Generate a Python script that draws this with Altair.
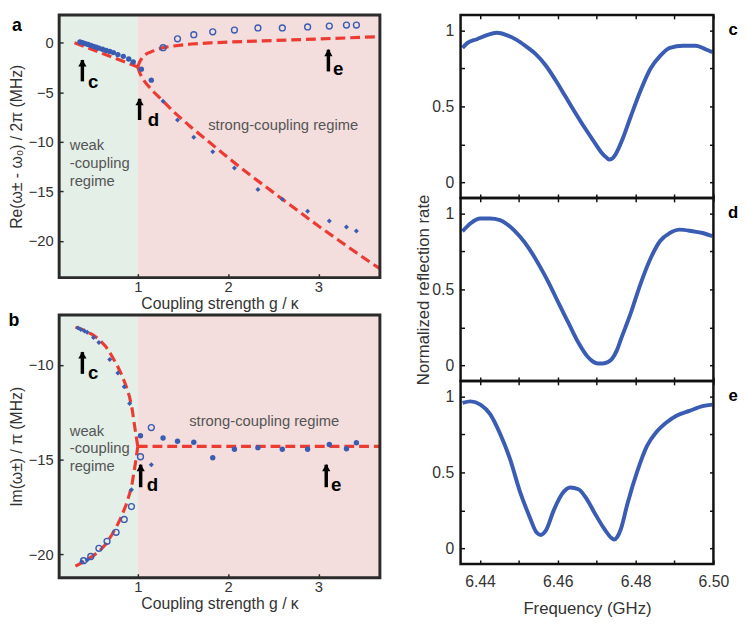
import altair as alt
import pandas as pd

FONT = "Liberation Sans"
BLUE = "#3a5cb2"
RED = "#ec3b33"
GREEN = "#e3efe7"
PINK = "#f3dedd"
FRAME_L = "#2b2b2b"
FRAME_R = "#111111"
TXT = "#333333"
NOTE = "#555555"

# ---------------- layout ----------------
WL, HL = 326, 267
WR, HR = 257, 186
VSP_L, HSP = 38, 32

# ---------------- shared axes data ----------------
g_domain = [0.13, 3.68]
g_ticks = [1, 2, 3]
region_edges = [0.13, 1.0, 3.68]
region_names = ["weak", "strong"]

# ---------------- panel a ----------------
a_ydomain = [-23.7, 2.8]
a_yticks = [0, -5, -10, -15, -20]

a_fit_weak_g = [0.30, 1.0]
a_fit_weak_y = [0.0, -2.45]
a_fit_up_g = [1.0, 1.02, 1.05, 1.1, 1.18, 1.28, 1.4, 1.6, 1.8, 2.0, 2.5, 3.0, 3.5, 3.68]
a_fit_up_y = [-2.45, -1.95, -1.5, -1.1, -0.8, -0.5, -0.33, -0.13, -0.02, 0.06, 0.22, 0.37, 0.55, 0.6]
a_fit_low_g = [1.0, 1.02, 1.05, 1.1, 1.18, 1.28, 1.4, 1.6, 1.8, 2.0, 2.25, 2.5, 2.75, 3.0, 3.25, 3.5, 3.68]
a_fit_low_y = [-2.45, -3.0, -3.6, -4.2, -5.0, -5.9, -7.0, -8.6, -10.1, -11.6, -13.4, -15.1, -16.8, -18.5, -20.1, -21.7, -22.8]

a_big_g = [0.36, 0.39, 0.42, 0.45, 0.48, 0.51, 0.54, 0.57, 0.61, 0.65, 0.69, 0.73, 0.78, 0.84, 0.90, 0.95, 1.04, 1.15]
a_big_y = [0.08, 0.0, -0.1, -0.18, -0.27, -0.37, -0.46, -0.55, -0.66, -0.78, -0.88, -1.0, -1.2, -1.38, -1.65, -1.95, -2.67, -3.78]
a_small_g = [1.28, 1.44, 1.62, 1.83, 2.07, 2.33, 2.60, 2.88, 3.12, 3.31, 3.42]
a_small_y = [-5.9, -7.8, -9.55, -11.0, -12.65, -14.8, -15.8, -17.0, -18.0, -18.6, -19.0]
a_open_g = [1.28, 1.44, 1.62, 1.83, 2.07, 2.33, 2.60, 2.88, 3.12, 3.31, 3.42]
a_open_y = [-0.5, 0.39, 0.81, 1.1, 1.27, 1.49, 1.49, 1.59, 1.68, 1.78, 1.78]

a_arrow_name = ["c", "d", "e"]
a_arrow_g = [0.387, 1.02, 3.11]
a_arrow_tip = [-1.75, -5.66, -0.71]
a_arrow_tail = [-3.9, -7.8, -2.9]
a_arrow_lab_g = [0.45, 1.11, 3.16]
a_arrow_lab_y = [-4.0, -7.85, -2.7]

a_weak_note = ["weak", "-coupling", "regime"]
a_weak_note_g = [0.247, 0.247, 0.247]
a_weak_note_y = [-10.3, -12.17, -13.93]
a_strong_note = ["strong-coupling regime"]
a_strong_note_g = [2.61]
a_strong_note_y = [-8.36]

# ---------------- panel b ----------------
b_ydomain = [-21.24, -7.36]
b_yticks = [-10, -15, -20]

b_fit_up_g = [0.31, 0.4, 0.5, 0.57, 0.65, 0.71, 0.77, 0.82, 0.87, 0.91, 0.94, 0.96, 0.98, 1.0]
b_fit_up_y = [-8.0, -8.15, -8.4, -8.64, -9.05, -9.5, -10.0, -10.5, -11.1, -11.7, -12.4, -13.06, -13.7, -14.3]
b_fit_low_g = [0.31, 0.4, 0.5, 0.57, 0.65, 0.71, 0.77, 0.82, 0.87, 0.91, 0.94, 0.96, 0.98, 1.0]
b_fit_low_y = [-20.63, -20.4, -20.1, -19.86, -19.45, -19.0, -18.5, -18.0, -17.4, -16.8, -16.2, -15.6, -15.0, -14.3]
b_fit_flat_g = [1.0, 3.68]
b_fit_flat_y = [-14.3, -14.3]

b_big_g = [1.03, 1.28, 1.44, 1.62, 1.83, 2.07, 2.33, 2.60, 2.88, 3.12, 3.31, 3.42]
b_big_y = [-13.74, -13.86, -14.03, -14.08, -14.9, -14.45, -14.37, -14.45, -14.45, -14.2, -14.43, -14.11]
b_small_g = [0.34, 0.37, 0.41, 0.44, 0.51, 0.57, 0.69, 0.78, 0.85, 0.91, 0.93, 0.38, 0.44, 1.15]
b_small_y = [-8.05, -8.13, -8.2, -8.27, -8.55, -8.81, -9.71, -10.42, -11.15, -12.04, -16.6, -20.4, -20.3, -15.27]
b_open_g = [0.40, 0.48, 0.57, 0.66, 0.76, 0.85, 0.93, 1.03, 1.15]
b_open_y = [-20.34, -20.12, -19.69, -19.32, -18.84, -18.16, -17.48, -14.85, -13.31]

b_arrow_name = ["c", "d", "e"]
b_arrow_g = [0.387, 1.032, 3.086]
b_arrow_tip = [-9.32, -15.27, -15.27]
b_arrow_tail = [-10.47, -16.46, -16.46]
b_arrow_lab_g = [0.45, 1.10, 3.14]
b_arrow_lab_y = [-10.42, -16.37, -16.33]

b_weak_note = ["weak", "-coupling", "regime"]
b_weak_note_g = [0.247, 0.247, 0.247]
b_weak_note_y = [-13.48, -14.4, -15.32]
b_strong_note = ["strong-coupling regime"]
b_strong_note_g = [2.40]
b_strong_note_y = [-12.97]

# ---------------- spectra c, d, e ----------------
f_domain = [6.435, 6.50]
f_ticks = [6.44, 6.45, 6.46, 6.47, 6.48, 6.49, 6.50]
r_domain = [-0.103, 1.103]
r_ticks = [0, 0.25, 0.5, 0.75, 1]

c_f = [6.4355, 6.4367, 6.4392, 6.4418, 6.4443, 6.4468, 6.4493, 6.4518, 6.4544, 6.4569, 6.4594,
       6.4619, 6.4644, 6.4670, 6.4695, 6.4712, 6.4725, 6.4733, 6.4741, 6.4749, 6.4766, 6.4787,
       6.4812, 6.4838, 6.4863, 6.4888, 6.4922, 6.4955, 6.4981, 6.4997]
c_r = [0.886, 0.917, 0.943, 0.970, 0.985, 0.970, 0.940, 0.896, 0.843, 0.770, 0.674,
       0.568, 0.462, 0.356, 0.260, 0.197, 0.163, 0.150, 0.158, 0.186, 0.282, 0.430,
       0.600, 0.748, 0.833, 0.886, 0.900, 0.900, 0.875, 0.858]

d_f = [6.4355, 6.4376, 6.4401, 6.4426, 6.4451, 6.4477, 6.4502, 6.4527, 6.4552, 6.4577, 6.4603,
       6.4628, 6.4653, 6.4678, 6.4690, 6.4703, 6.4716, 6.4729, 6.4740, 6.4752, 6.4762, 6.4787,
       6.4812, 6.4838, 6.4863, 6.4888, 6.4913, 6.4947, 6.4972, 6.4997]
d_r = [0.883, 0.936, 0.967, 0.967, 0.957, 0.914, 0.850, 0.766, 0.660, 0.542, 0.404,
       0.276, 0.149, 0.053, 0.025, 0.012, 0.012, 0.021, 0.045, 0.100, 0.170, 0.340,
       0.532, 0.702, 0.819, 0.872, 0.894, 0.883, 0.872, 0.851]

e_f = [6.4355, 6.4376, 6.4401, 6.4426, 6.4451, 6.4477, 6.4502, 6.4527, 6.4545, 6.4556, 6.4569,
       6.4590, 6.4611, 6.4632, 6.4653, 6.4674, 6.4695, 6.4720, 6.4737, 6.4745, 6.4753, 6.4762,
       6.4779, 6.4804, 6.4829, 6.4854, 6.4880, 6.4905, 6.4938, 6.4972, 6.4997]
e_r = [0.958, 0.968, 0.947, 0.884, 0.758, 0.589, 0.379, 0.210, 0.105, 0.088, 0.116,
       0.253, 0.358, 0.400, 0.389, 0.326, 0.231, 0.126, 0.070, 0.058, 0.075, 0.126,
       0.294, 0.505, 0.673, 0.768, 0.831, 0.874, 0.905, 0.937, 0.947]

one = pd.DataFrame({"k": [0]})


def curves_df(branches):
    rows = []
    for name, gs, ys in branches:
        for i, (g, y) in enumerate(zip(gs, ys)):
            rows.append({"branch": name, "i": i, "g": g, "y": y})
    return pd.DataFrame(rows)


def left_panel(ydom, yticks, ytitle, branches, big, small, opn, arrows, weak_note, strong_note,
               letter, letter_xy):
    xs = alt.Scale(domain=g_domain, nice=False, zero=False)
    ys = alt.Scale(domain=ydom, nice=False, zero=False)
    ax_x = alt.Axis(values=g_ticks, format="d", offset=-4, tickSize=4, tickWidth=1.5,
                    tickColor=FRAME_L, domain=False, grid=False, labelPadding=9,
                    labelBaseline="middle", labelFontSize=15, labelColor=TXT, labelFont=FONT,
                    titleFont=FONT, titleFontSize=16, titleFontWeight="normal", titleColor=TXT,
                    titleY=30, titleBaseline="middle", zindex=1, labelFlush=False)
    ax_y = alt.Axis(values=yticks, format="d", offset=-4, tickSize=4, tickWidth=1.5,
                    tickColor=FRAME_L, domain=False, grid=False, labelPadding=6,
                    labelFontSize=15, labelColor=TXT, labelFont=FONT,
                    titleFont=FONT, titleFontSize=16, titleFontWeight="normal", titleColor=TXT,
                    titleX=-47, titleBaseline="middle", zindex=1)
    XT = "Coupling strength g / κ"

    def X(f):
        return alt.X(f, type="quantitative", scale=xs, axis=ax_x, title=XT)

    def Y(f):
        return alt.Y(f, type="quantitative", scale=ys, axis=ax_y, title=ytitle)

    bg = alt.Chart(pd.DataFrame({"x0": region_edges[:-1], "x1": region_edges[1:],
                                 "region": region_names})).mark_rect().encode(
        x=X("x0"), x2="x1", y=alt.value(0), y2=alt.value(HL),
        color=alt.Color("region:N", scale=alt.Scale(domain=region_names, range=[GREEN, PINK]),
                        legend=None))
    fits = alt.Chart(curves_df(branches)).mark_line(
        color=RED, strokeWidth=3.2, strokeDash=[10, 5], clip=True).encode(
        x=X("g"), y=Y("y"), detail="branch:N", order="i:Q")
    big_l = alt.Chart(pd.DataFrame({"g": big[0], "y": big[1]})).mark_circle(
        color=BLUE, size=30, opacity=1).encode(x=X("g"), y=Y("y"))
    small_l = alt.Chart(pd.DataFrame({"g": small[0], "y": small[1]})).mark_point(
        shape="diamond", filled=True, color=BLUE, size=26, opacity=1).encode(x=X("g"), y=Y("y"))
    open_l = alt.Chart(pd.DataFrame({"g": opn[0], "y": opn[1]})).mark_point(
        filled=False, color=BLUE, size=36, strokeWidth=1.4, opacity=1).encode(x=X("g"), y=Y("y"))
    adf = pd.DataFrame({"name": arrows[0], "g": arrows[1], "tip": arrows[2], "tail": arrows[3],
                        "lg": arrows[4], "ly": arrows[5]})
    shaft = alt.Chart(adf).mark_rule(color="black", strokeWidth=3.5).encode(
        x=X("g"), y=Y("tail"), y2="tip")
    head = alt.Chart(adf).mark_point(shape="triangle-up", filled=True, color="black", size=70,
                                     opacity=1, yOffset=3).encode(x=X("g"), y=Y("tip"))
    alab = alt.Chart(adf).mark_text(font=FONT, fontSize=19, fontWeight="bold", color="black",
                                    align="left", baseline="middle").encode(
        x=X("lg"), y=Y("ly"), text="name:N")
    wn = alt.Chart(pd.DataFrame({"t": weak_note[0], "g": weak_note[1], "y": weak_note[2]})).mark_text(
        font=FONT, fontSize=15, color=NOTE, align="left", baseline="middle").encode(
        x=X("g"), y=Y("y"), text="t:N")
    sn = alt.Chart(pd.DataFrame({"t": strong_note[0], "g": strong_note[1], "y": strong_note[2]})).mark_text(
        font=FONT, fontSize=15, color=NOTE, align="center", baseline="middle").encode(
        x=X("g"), y=Y("y"), text="t:N")
    let = alt.Chart(one).mark_text(font=FONT, fontSize=18, fontWeight="bold", color="black",
                                   align="center", baseline="middle").encode(
        x=alt.value(letter_xy[0]), y=alt.value(letter_xy[1]), text=alt.value(letter))
    frame = alt.Chart(one).mark_rect(fillOpacity=0, stroke=FRAME_L, strokeWidth=3).encode(
        x=alt.value(0), x2=alt.value(WL), y=alt.value(0), y2=alt.value(HL))
    return alt.layer(bg, fits, big_l, small_l, open_l, shaft, head, alab, wn, sn, let, frame).properties(
        width=WL, height=HL)


def right_panel(f, r, letter, show_x, show_ytitle):
    df = pd.DataFrame({"f": f, "r": r})
    xs = alt.Scale(domain=f_domain, nice=False, zero=False)
    ys = alt.Scale(domain=r_domain, nice=False, zero=False)
    common = dict(offset=-4, tickSize=4, tickWidth=1.5, tickColor=FRAME_R, domain=False,
                  grid=False, zindex=1)
    ax_b = alt.Axis(orient="bottom", values=f_ticks, format=".2f", labels=show_x,
                    labelExpr="round(datum.value * 100) % 2 == 0 ? datum.label : ''",
                    labelPadding=18, labelBaseline="middle", labelFontSize=16, labelColor=TXT,
                    labelFont=FONT, labelFlush=False, labelOverlap=False,
                    titleFont=FONT, titleFontSize=17, titleFontWeight="normal", titleColor=TXT,
                    titleY=49, titleBaseline="middle", **common)
    ax_l = alt.Axis(orient="left", values=r_ticks, format="~g",
                    labelExpr="datum.value == 0.25 || datum.value == 0.75 ? '' : datum.label",
                    labelPadding=7, labelFontSize=16, labelColor=TXT, labelFont=FONT,
                    labelOverlap=False,
                    titleFont=FONT, titleFontSize=17, titleFontWeight="normal", titleColor=TXT,
                    titleX=-42, titleBaseline="middle", **common)
    ax_t = alt.Axis(orient="top", values=f_ticks, labels=False, **common)
    ax_r = alt.Axis(orient="right", values=r_ticks, labels=False, **common)
    xt = "Frequency (GHz)" if show_x else None
    yt = "Normalized reflection rate" if show_ytitle else None
    line = alt.Chart(df).mark_line(color=BLUE, strokeWidth=4, interpolate="monotone").encode(
        x=alt.X("f:Q", scale=xs, axis=ax_b, title=xt),
        y=alt.Y("r:Q", scale=ys, axis=ax_l, title=yt))
    mirror = alt.Chart(df).mark_line(opacity=0).encode(
        x=alt.X("f:Q", scale=xs, axis=ax_t, title=None),
        y=alt.Y("r:Q", scale=ys, axis=ax_r, title=None))
    let = alt.Chart(one).mark_text(font=FONT, fontSize=17, fontWeight="bold", color="black",
                                   align="center", baseline="middle").encode(
        x=alt.value(WR + 20), y=alt.value(15), text=alt.value(letter))
    frame = alt.Chart(one).mark_rect(fillOpacity=0, stroke=FRAME_R, strokeWidth=2.5).encode(
        x=alt.value(0), x2=alt.value(WR), y=alt.value(0), y2=alt.value(HR))
    return alt.layer(line, mirror, let, frame).resolve_axis(
        x="independent", y="independent").properties(width=WR, height=HR)


pa = left_panel(a_ydomain, a_yticks, "Re(ω± - ω₀) / 2π (MHz)",
                [("weak", a_fit_weak_g, a_fit_weak_y), ("up", a_fit_up_g, a_fit_up_y),
                 ("low", a_fit_low_g, a_fit_low_y)],
                (a_big_g, a_big_y), (a_small_g, a_small_y), (a_open_g, a_open_y),
                (a_arrow_name, a_arrow_g, a_arrow_tip, a_arrow_tail, a_arrow_lab_g, a_arrow_lab_y),
                (a_weak_note, a_weak_note_g, a_weak_note_y),
                (a_strong_note, a_strong_note_g, a_strong_note_y), "a", (-43, 11))
pb = left_panel(b_ydomain, b_yticks, "Im(ω±) / π (MHz)",
                [("up", b_fit_up_g, b_fit_up_y), ("low", b_fit_low_g, b_fit_low_y),
                 ("flat", b_fit_flat_g, b_fit_flat_y)],
                (b_big_g, b_big_y), (b_small_g, b_small_y), (b_open_g, b_open_y),
                (b_arrow_name, b_arrow_g, b_arrow_tip, b_arrow_tail, b_arrow_lab_g, b_arrow_lab_y),
                (b_weak_note, b_weak_note_g, b_weak_note_y),
                (b_strong_note, b_strong_note_g, b_strong_note_y), "b", (-46, 6))

pc = right_panel(c_f, c_r, "c", False, False)
pd_ = right_panel(d_f, d_r, "d", False, True)
pe = right_panel(e_f, e_r, "e", True, False)

left = alt.vconcat(pa, pb, spacing=VSP_L, bounds="flush")
right = alt.vconcat(pc, pd_, pe, spacing=0, bounds="flush")
chart = alt.hconcat(left, right, spacing=HSP).configure_view(
    strokeWidth=0).configure(font=FONT).properties(
    padding={"left": 0, "top": 0, "right": 0, "bottom": 0})

chart.save("out.html", embed_options={"renderer": "svg", "actions": False})
